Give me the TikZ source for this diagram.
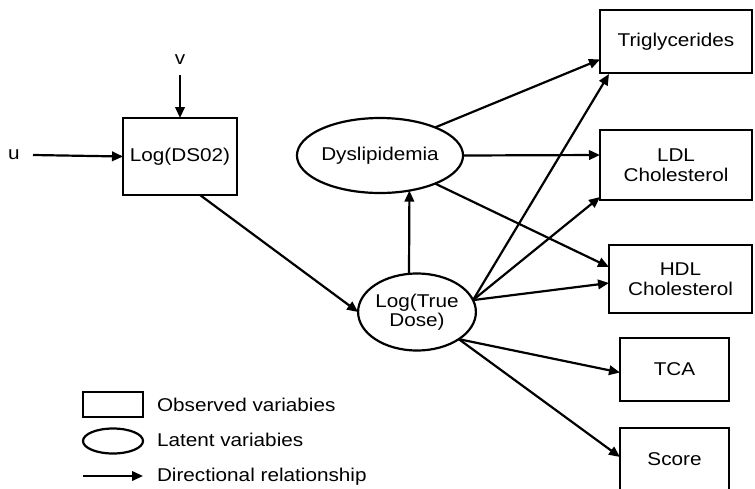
\documentclass[tikz,border=0pt]{standalone}
\usepackage{fontspec}
\setmainfont{Liberation Sans}[FakeStretch=1.12]
\usetikzlibrary{arrows.meta,shapes.geometric}
\begin{document}
\begin{tikzpicture}[x=1pt,y=-1pt,
  font=\fontsize{18.5}{19.5}\selectfont,
  every node/.style={inner sep=0pt,outer sep=0pt},
  box/.style={draw,line width=2.2pt,rectangle,align=center},
  lat/.style={draw,line width=2.2pt,ellipse,align=center},
  arr/.style={line width=2.2pt,-{Triangle[length=11pt,width=9.5pt]}},
  lbl/.style={anchor=west}]
\useasboundingbox (0,0) rectangle (755,488);
% observed
\node[box,minimum width=114pt,minimum height=77pt] (ds) at (180,156.5) {Log(DS02)};
\node[box,minimum width=152pt,minimum height=63pt] (trig) at (676,41.5) {Triglycerides};
\node[box,minimum width=152pt,minimum height=70pt] (ldl) at (676,165) {LDL\\Cholesterol};
\node[box,minimum width=143pt,minimum height=68pt] (hdl) at (680.5,279) {HDL\\Cholesterol};
\node[box,minimum width=109pt,minimum height=63pt] (tca) at (674.5,369.5) {TCA};
\node[box,minimum width=109pt,minimum height=66pt] (score) at (674.5,461) {\raisebox{3pt}{Score}};
% latent
\node[lat,minimum width=148pt,minimum height=75pt] (dys) at (380,155.5) {Dyslipidemia};
\node[lat,minimum width=110pt,minimum height=77pt] (true) at (417,312) {Log(True\\Dose)};
% error terms
\node (u) at (14,155) {u};
\node (v) at (180,60) {v};
\draw[arr] ([xshift=19pt]u.center) -- (ds.west);
\draw[arr] ([yshift=-15pt]v.center) -- (ds.north);
% paths
\draw[arr] ([xshift=20pt]ds.south) -- (true.west);
\draw[arr] ([xshift=-8pt]true.north) -- (dys.-50.4);
\draw[arr] (dys.27) -- ([yshift=-18pt]trig.west);
\draw[arr] (dys.east) -- ([yshift=10pt]ldl.west);
\draw[arr] (dys.-27) -- ([yshift=12pt]hdl.west);
\draw[arr] (true.12) -- ([xshift=9pt,yshift=-1pt]trig.south west);
\draw[arr] (true.12) -- ([yshift=3pt]ldl.south west);
\draw[arr] (true.12) -- ([yshift=-4pt]hdl.west);
\draw[arr] (true.-33) -- ([yshift=-3pt]tca.west);
\draw[arr] (true.-33) -- ([yshift=-29pt]score.north west);
% legend
\node[box,minimum width=60pt,minimum height=25pt] (lobs) at (113,404.5) {};
\node[lat,minimum width=60pt,minimum height=25pt] (llat) at (113,441) {};
\coordinate (la1) at (83,476);
\coordinate (la2) at (143,476);
\draw[arr] (la1) -- (la2);
\node[lbl] (tobs) at (157,405) {Observed variabies};
\node[lbl] (tlat) at (157,440) {Latent variabies};
\node[lbl] (tdir) at (157,477) {Directional relationship};
\end{tikzpicture}
\end{document}
